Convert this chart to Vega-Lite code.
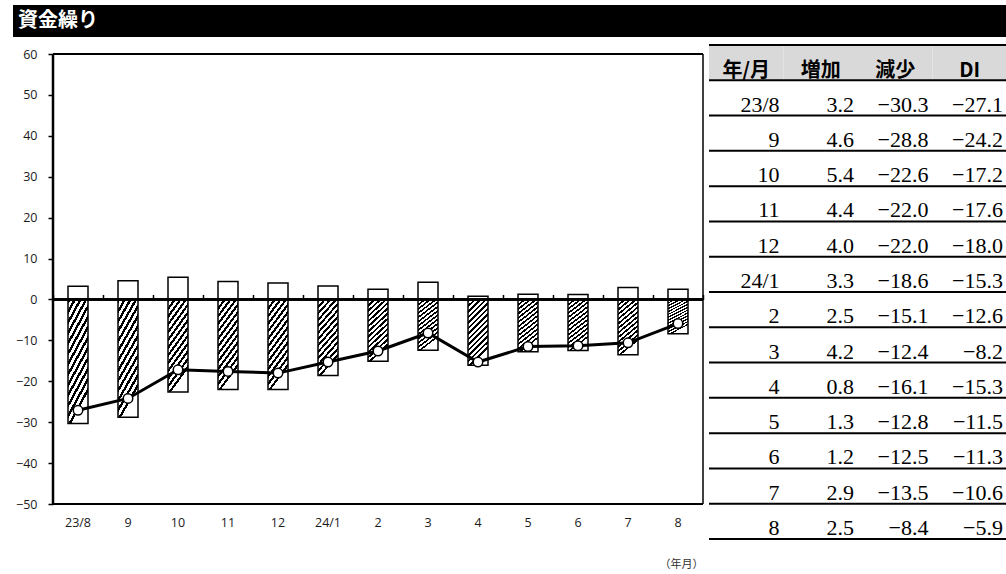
{
  "$schema": "https://vega.github.io/schema/vega-lite/v6.json",
  "padding": {"left": 13, "top": 5, "right": 0, "bottom": 0},
  "background": "white",
  "config": {"view": {"stroke": null}, "font": "Open Sans"},
  "datasets": {
    "main": [
      {"m": "23/8", "inc": 3.2, "dec": -30.3, "di": -27.1},
      {"m": "9", "inc": 4.6, "dec": -28.8, "di": -24.2},
      {"m": "10", "inc": 5.4, "dec": -22.6, "di": -17.2},
      {"m": "11", "inc": 4.4, "dec": -22.0, "di": -17.6},
      {"m": "12", "inc": 4.0, "dec": -22.0, "di": -18.0},
      {"m": "24/1", "inc": 3.3, "dec": -18.6, "di": -15.3},
      {"m": "2", "inc": 2.5, "dec": -15.1, "di": -12.6},
      {"m": "3", "inc": 4.2, "dec": -12.4, "di": -8.2},
      {"m": "4", "inc": 0.8, "dec": -16.1, "di": -15.3},
      {"m": "5", "inc": 1.3, "dec": -12.8, "di": -11.5},
      {"m": "6", "inc": 1.2, "dec": -12.5, "di": -11.3},
      {"m": "7", "inc": 2.9, "dec": -13.5, "di": -10.6},
      {"m": "8", "inc": 2.5, "dec": -8.4, "di": -5.9}
    ],
    "head": [
      {"key": "month", "label": "年/月"},
      {"key": "inc", "label": "増加"},
      {"key": "dec", "label": "減少"},
      {"key": "di", "label": "DI"}
    ]
  },
  "spacing": 7,
  "vconcat": [
    {
      "width": 993,
      "height": 32,
      "view": {"fill": "black", "stroke": null},
      "data": {"values": [{"t": "資金繰り"}]},
      "mark": {"type": "text", "align": "left", "baseline": "middle", "color": "white", "font": "Noto Sans CJK JP", "fontSize": 20, "fontWeight": "bold", "dx": 5},
      "encoding": {
        "x": {"datum": 0, "type": "quantitative", "scale": {"domain": [0, 1]}, "axis": null},
        "text": {"field": "t"}
      }
    },
    {
      "spacing": 4,
      "hconcat": [
        {
          "width": 690,
          "height": 459,
          "data": {"name": "main"},
          "resolve": {"axis": {"x": "independent"}},
          "layer": [
            {
              "mark": {"type": "bar", "fill": "white", "stroke": "black", "strokeWidth": 1.5, "width": {"band": 0.4}},
              "encoding": {
                "x": {"field": "m", "type": "ordinal", "sort": null,
                  "scale": {"domain": ["23/8","9","10","11","12","24/1","2","3","4","5","6","7","8"], "paddingInner": 0, "paddingOuter": 0.4, "align": 1},
                  "axis": {"orient": "bottom", "title": "（年月）", "domain": false, "ticks": false, "tickSize": 0, "labelPadding": 12, "labelAngle": 0, "labelFont": "Open Sans", "labelFontSize": 12.5, "labelColor": "#1a1a1a", "titleAnchor": "end", "titleFont": "Noto Sans CJK JP", "titleFontSize": 11, "titleFontWeight": "normal", "titleColor": "#333333", "titlePadding": 30}},
                "y": {"field": "inc", "type": "quantitative",
                  "scale": {"domain": [-50, 62.2], "nice": false, "zero": false},
                  "axis": {"values": [-50, -40, -30, -20, -10, 0, 10, 20, 30, 40, 50, 60], "format": "d", "offset": -40, "domain": false, "grid": false, "ticks": true, "tickSize": 5, "tickColor": "black", "tickWidth": 1.5, "labelPadding": 11, "labelFont": "Open Sans", "labelFontSize": 12.5, "labelColor": "#1a1a1a", "labelFlush": false, "title": null}}
              }
            },
            {
              "mark": {"type": "bar", "stroke": "black", "strokeWidth": 1.5, "width": {"band": 0.4},
                "fill": {"gradient": "linear", "x1": 0, "y1": 0, "x2": 0.3, "y2": 1, "stops": [
                  {"offset": 0, "color": "black"}, {"offset": 0.036, "color": "black"}, {"offset": 0.036, "color": "white"}, {"offset": 0.0769, "color": "white"},
                  {"offset": 0.0769, "color": "black"}, {"offset": 0.1129, "color": "black"}, {"offset": 0.1129, "color": "white"}, {"offset": 0.1538, "color": "white"},
                  {"offset": 0.1538, "color": "black"}, {"offset": 0.1898, "color": "black"}, {"offset": 0.1898, "color": "white"}, {"offset": 0.2308, "color": "white"},
                  {"offset": 0.2308, "color": "black"}, {"offset": 0.2668, "color": "black"}, {"offset": 0.2668, "color": "white"}, {"offset": 0.3077, "color": "white"},
                  {"offset": 0.3077, "color": "black"}, {"offset": 0.3437, "color": "black"}, {"offset": 0.3437, "color": "white"}, {"offset": 0.3846, "color": "white"},
                  {"offset": 0.3846, "color": "black"}, {"offset": 0.4206, "color": "black"}, {"offset": 0.4206, "color": "white"}, {"offset": 0.4615, "color": "white"},
                  {"offset": 0.4615, "color": "black"}, {"offset": 0.4975, "color": "black"}, {"offset": 0.4975, "color": "white"}, {"offset": 0.5385, "color": "white"},
                  {"offset": 0.5385, "color": "black"}, {"offset": 0.5745, "color": "black"}, {"offset": 0.5745, "color": "white"}, {"offset": 0.6154, "color": "white"},
                  {"offset": 0.6154, "color": "black"}, {"offset": 0.6514, "color": "black"}, {"offset": 0.6514, "color": "white"}, {"offset": 0.6923, "color": "white"},
                  {"offset": 0.6923, "color": "black"}, {"offset": 0.7283, "color": "black"}, {"offset": 0.7283, "color": "white"}, {"offset": 0.7692, "color": "white"},
                  {"offset": 0.7692, "color": "black"}, {"offset": 0.8052, "color": "black"}, {"offset": 0.8052, "color": "white"}, {"offset": 0.8462, "color": "white"},
                  {"offset": 0.8462, "color": "black"}, {"offset": 0.8822, "color": "black"}, {"offset": 0.8822, "color": "white"}, {"offset": 0.9231, "color": "white"},
                  {"offset": 0.9231, "color": "black"}, {"offset": 0.9591, "color": "black"}, {"offset": 0.9591, "color": "white"}, {"offset": 1, "color": "white"}
                ]}},
              "encoding": {
                "x": {"field": "m", "type": "ordinal", "sort": null,
                  "axis": {"orient": "top", "offset": -254.45, "labels": false, "title": null, "domain": false, "ticks": true, "tickBand": "extent", "tickSize": 5, "tickColor": "black", "tickWidth": 1.5, "grid": false}},
                "y": {"field": "dec", "type": "quantitative"}
              }
            },
            {
              "mark": {"type": "rule", "stroke": "black", "strokeWidth": 1.5},
              "encoding": {
                "x": {"datum": "23/8", "type": "ordinal", "bandPosition": 0, "axis": null},
                "x2": {"datum": "8", "bandPosition": 1},
                "y": {"datum": 0, "type": "quantitative"}
              }
            },
            {
              "mark": {"type": "line", "stroke": "black", "strokeWidth": 3},
              "encoding": {
                "x": {"field": "m", "type": "ordinal", "sort": null, "axis": null},
                "y": {"field": "di", "type": "quantitative"}
              }
            },
            {
              "mark": {"type": "point", "filled": true, "fill": "white", "stroke": "black", "strokeWidth": 1.5, "size": 90, "opacity": 1},
              "encoding": {
                "x": {"field": "m", "type": "ordinal", "sort": null, "axis": null},
                "y": {"field": "di", "type": "quantitative"}
              }
            },
            {
              "mark": {"type": "rule", "stroke": "black", "strokeWidth": 1.5},
              "encoding": {
                "x": {"datum": "23/8", "type": "ordinal", "bandPosition": 0, "axis": null},
                "x2": {"datum": "8", "bandPosition": 1},
                "y": {"datum": 60, "type": "quantitative"}
              }
            },
            {
              "mark": {"type": "rule", "stroke": "black", "strokeWidth": 1.5},
              "encoding": {
                "x": {"datum": "23/8", "type": "ordinal", "bandPosition": 0, "axis": null},
                "x2": {"datum": "8", "bandPosition": 1},
                "y": {"datum": -50, "type": "quantitative"}
              }
            },
            {
              "transform": [{"filter": "datum.m == '23/8'"}],
              "mark": {"type": "rule", "stroke": "black", "strokeWidth": 2.5},
              "encoding": {
                "x": {"field": "m", "type": "ordinal", "bandPosition": 0, "axis": null},
                "y": {"datum": -50, "type": "quantitative"},
                "y2": {"datum": 60}
              }
            },
            {
              "transform": [{"filter": "datum.m == '8'"}],
              "mark": {"type": "rule", "stroke": "black", "strokeWidth": 1.5},
              "encoding": {
                "x": {"field": "m", "type": "ordinal", "bandPosition": 1, "axis": null},
                "y": {"datum": -50, "type": "quantitative"},
                "y2": {"datum": 60}
              }
            }
          ]
        },
        {
          "width": 298,
          "height": 494,
          "layer": [
            {
              "data": {"name": "head"},
              "mark": {"type": "rect", "fill": "#d9d9d9"},
              "encoding": {
                "x": {"field": "key", "type": "nominal", "sort": null,
                  "scale": {"domain": ["month", "inc", "dec", "di"], "paddingInner": 0, "paddingOuter": 0}, "axis": null},
                "y": {"datum": "年/月", "type": "nominal",
                  "scale": {"domain": ["年/月","23/8","9","10","11","12","24/1","2","3","4","5","6","7","8"], "paddingInner": 0, "paddingOuter": 0}, "axis": null}
              }
            },
            {
              "data": {"name": "head"},
              "mark": {"type": "text", "align": "center", "baseline": "alphabetic", "dy": -3, "font": "Noto Sans CJK JP", "fontSize": 20, "fontWeight": "bold", "color": "black"},
              "encoding": {
                "x": {"field": "key", "type": "nominal", "sort": null, "axis": null},
                "y": {"datum": "年/月", "type": "nominal", "bandPosition": 1, "axis": null},
                "text": {"field": "label"}
              }
            },
            {
              "data": {"name": "main"},
              "mark": {"type": "text", "align": "right", "baseline": "alphabetic", "dx": -4, "dy": -4, "font": "Liberation Serif", "fontSize": 22, "color": "black"},
              "encoding": {
                "x": {"datum": "month", "type": "nominal", "bandPosition": 1, "axis": null},
                "y": {"field": "m", "type": "nominal", "sort": null, "bandPosition": 1, "axis": null},
                "text": {"field": "m"}
              }
            },
            {
              "data": {"name": "main"},
              "transform": [{"fold": ["inc", "dec", "di"], "as": ["col", "val"]}],
              "mark": {"type": "text", "align": "right", "baseline": "alphabetic", "dx": -4, "dy": -4, "font": "Liberation Serif", "fontSize": 22, "color": "black"},
              "encoding": {
                "x": {"field": "col", "type": "nominal", "sort": null, "bandPosition": 1, "axis": null},
                "y": {"field": "m", "type": "nominal", "sort": null, "bandPosition": 1, "axis": null},
                "text": {"field": "val", "type": "quantitative", "format": ".1f"}
              }
            },
            {
              "data": {"name": "main"},
              "mark": {"type": "rule", "stroke": "black", "strokeWidth": 2},
              "encoding": {
                "y": {"field": "m", "type": "nominal", "sort": null, "bandPosition": 1, "axis": null}
              }
            },
            {
              "data": {"name": "main"},
              "transform": [{"filter": "datum.m == '23/8'"}],
              "mark": {"type": "rule", "stroke": "black", "strokeWidth": 2},
              "encoding": {
                "y": {"field": "m", "type": "nominal", "bandPosition": 0, "axis": null}
              }
            },
            {
              "data": {"name": "head"},
              "transform": [{"filter": "datum.key == 'month'"}],
              "mark": {"type": "rule", "stroke": "black", "strokeWidth": 2},
              "encoding": {
                "y": {"field": "label", "type": "nominal", "bandPosition": 0, "axis": null}
              }
            }
          ]
        }
      ]
    }
  ]
}
